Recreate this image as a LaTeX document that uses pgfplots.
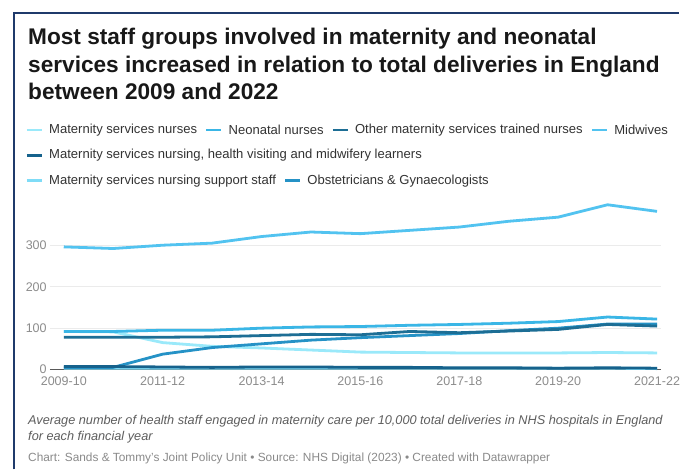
\documentclass[border=0pt]{standalone}
\usepackage{pgfplots}
\pgfplotsset{compat=1.18}
\usepackage{fontspec}
\setmainfont{Liberation Sans}
\definecolor{navy}{HTML}{1F3A6B}
\definecolor{titlec}{HTML}{181818}
\definecolor{legc}{HTML}{333333}
\definecolor{tickc}{HTML}{8C8C8C}
\definecolor{notec}{HTML}{5E5E5E}
\definecolor{credc}{HTML}{8A8A8A}
\definecolor{cMSN}{HTML}{9AE9FA}
\definecolor{cNeo}{HTML}{3AB6E6}
\definecolor{cOth}{HTML}{1D6E95}
\definecolor{cMid}{HTML}{52C3F0}
\definecolor{cLrn}{HTML}{16628C}
\definecolor{cSup}{HTML}{7FDCF7}
\definecolor{cOG}{HTML}{2592C6}
\begin{document}
\begin{tikzpicture}
\begin{scope}[x=0.75pt,y=-0.75pt]
\path[use as bounding box] (0,0) rectangle (680,470);
\fill[white] (0,0) rectangle (680,470);
\draw[navy, line width=1.5pt] (14,470) -- (14,13) -- (680,13);
% title
\begin{scope}[every node/.style={anchor=base west, inner sep=0pt, font=\fontsize{17}{20}\selectfont\bfseries, text=titlec}]
\node at (28,45) {Most staff groups involved in maternity and neonatal};
\node at (28,72.5) {services increased in relation to total deliveries in England};
\node at (28,100) {between 2009 and 2022};
\end{scope}
% legend
\begin{scope}[every node/.style={anchor=west, inner sep=0pt, font=\fontsize{9.8}{12}\selectfont, text=legc}]
\draw[cMSN, line width=1.9pt] (27,130) -- (42,130);
\node (l1) at (49,130) {Maternity services nurses};
\draw[cNeo, line width=1.9pt] ([xshift=6.75pt]l1.east) -- ++(11.25pt,0) coordinate (s2);
\node (l2) at ([xshift=5.25pt]s2) {Neonatal nurses};
\draw[cOth, line width=1.9pt] ([xshift=6.75pt]l2.east) -- ++(11.25pt,0) coordinate (s3);
\node (l3) at ([xshift=5.25pt]s3) {Other maternity services trained nurses};
\draw[cMid, line width=1.9pt] ([xshift=6.75pt]l3.east) -- ++(11.25pt,0) coordinate (s4);
\node (l4) at ([xshift=5.25pt]s4) {Midwives};
\draw[cLrn, line width=1.9pt] (27,155.5) -- (42,155.5);
\node at (49,155.5) {Maternity services nursing, health visiting and midwifery learners};
\draw[cSup, line width=1.9pt] (27,181) -- (42,181);
\node (l6) at (49,181) {Maternity services nursing support staff};
\draw[cOG, line width=1.9pt] ([xshift=6.75pt]l6.east) -- ++(11.25pt,0) coordinate (s7);
\node at ([xshift=5.25pt]s7) {Obstetricians \& Gynaecologists};
\end{scope}
% notes
\node[anchor=west, inner sep=0pt, font=\fontsize{9.55}{11}\selectfont\itshape, text=notec] at (28,422) {Average number of health staff engaged in maternity care per 10,000 total deliveries in NHS hospitals in England};
\node[anchor=west, inner sep=0pt, font=\fontsize{9.55}{11}\selectfont\itshape, text=notec] at (28,437.5) {for each financial year};
\node[anchor=west, inner sep=0pt, font=\fontsize{8.9}{11}\selectfont, text=credc] at (28,459) {Chart: Sands \& Tommy's Joint Policy Unit • Source: NHS Digital (2023) • Created with Datawrapper};
\end{scope}
\begin{axis}[
 at={(37.5pt,-277.5pt)}, anchor=south west,
 scale only axis, width=459pt, height=124pt,
 xmin=-0.28, xmax=12.08, ymin=0, ymax=400,
 axis line style={draw=none},
 major tick length=0pt,
 xtick={0,2,...,12},
 xticklabels={2009-10,2011-12,2013-14,2015-16,2017-18,2019-20,2021-22},
 ytick={100,200,300}, extra y ticks={0},
 extra y tick style={grid style={draw=black!65, line width=0.9pt}},
 ymajorgrids, grid style={draw=black!8, line width=0.75pt},
 tick label style={font=\fontsize{9.4}{11}\selectfont, text=tickc},
 yticklabel style={anchor=east, inner sep=0pt, xshift=-2.25pt},
 xticklabel style={anchor=north, inner sep=0pt, yshift=-5.5pt},
 /pgf/number format/assume math mode=true,
 clip=false,
 every axis plot/.append style={line width=2.1pt, no markers, line join=round},
]
% Maternity services nursing support staff
\addplot[cSup] coordinates {(0,3)(1,3)(2,3)(3,3)(4,3)(5,3)(6,3)(7,3)(8,3)(9,3)(10,3)(11,3)(12,2)};
% Maternity services nurses
\addplot[cMSN] coordinates {(0,92)(1,91)(2,65)(3,56)(4,52)(5,47)(6,42)(7,41)(8,40)(9,40)(10,40)(11,41)(12,40)};
% Neonatal nurses
\addplot[cNeo] coordinates {(0,92)(1,92)(2,95)(3,95)(4,100)(5,103)(6,104)(7,107)(8,109)(9,112)(10,116)(11,127)(12,122)};
% Midwives
\addplot[cMid] coordinates {(0,297)(1,293)(2,301)(3,306)(4,322)(5,333)(6,329)(7,337)(8,345)(9,359)(10,369)(11,399)(12,383)};
% Obstetricians & Gynaecologists
\addplot[cOG] coordinates {(0,5)(1,5)(2,37)(3,53)(4,62)(5,71)(6,77)(7,82)(8,87)(9,94)(10,100)(11,110)(12,110)};
% Other maternity services trained nurses
\addplot[cOth] coordinates {(0,78)(1,78)(2,78)(3,79)(4,82)(5,85)(6,84)(7,92)(8,89)(9,93)(10,97)(11,109)(12,105)};
% Learners
\addplot[cLrn] coordinates {(0,7)(1,7)(2,6)(3,5)(4,6)(5,6)(6,5)(7,5)(8,4)(9,4)(10,3)(11,4)(12,3)};
\end{axis}
\end{tikzpicture}
\end{document}
